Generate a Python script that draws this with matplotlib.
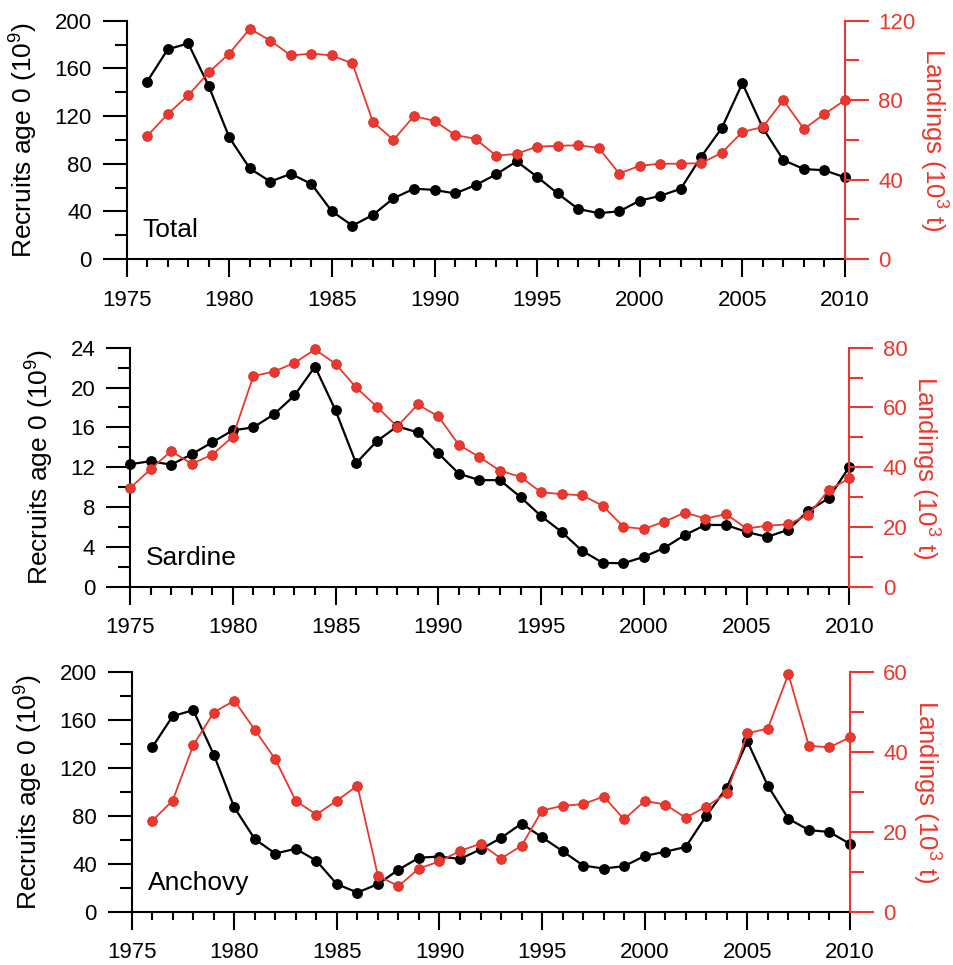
import numpy as np
from matplotlib import pyplot as plt
from matplotlib.ticker import MultipleLocator

plt.rcParams['font.family'] = ['Liberation Sans', 'DejaVu Sans']

RED = '#e8382f'

# --- data ---
years_total = list(range(1976, 2011))
total_recruits = [149, 176, 181, 145, 102, 76, 65, 71.5, 63, 40, 28, 37, 51, 59, 58,
                  55, 62, 71, 82, 69, 55, 42, 38.5, 40, 49, 53, 59, 86, 110, 147.5,
                  110, 83, 75.5, 74.5, 68.5]
total_landings = [62, 73, 82.5, 94, 103.5, 116, 110, 102.5, 103.5, 102.5, 98.5, 69, 60,
                  72, 69.5, 62.5, 60.5, 52, 53, 56.6, 57, 57.3, 56, 43, 47, 48, 48, 48.3,
                  53.5, 64, 66.5, 80, 65.5, 73, 80]

years_sardine = list(range(1975, 2011))
sardine_recruits = [12.3, 12.6, 12.25, 13.3, 14.5, 15.7, 16.0, 17.3, 19.2, 22.1, 17.7,
                    12.4, 14.6, 16.1, 15.5, 13.4, 11.35, 10.7, 10.7, 9.0, 7.1, 5.5, 3.6,
                    2.4, 2.35, 3.0, 3.9, 5.2, 6.2, 6.2, 5.5, 5.0, 5.7, 7.6, 8.9, 12.05]
sardine_landings = [33, 39.3, 45.4, 41.1, 44.2, 50.2, 70.5, 72, 74.9, 79.4, 74.6, 66.7,
                    60.3, 53.6, 61, 57, 47.5, 43.4, 38.8, 36.8, 31.6, 31, 30.6, 27.1,
                    20.1, 19.3, 21.8, 24.8, 22.8, 24.3, 19.5, 20.4, 20.9, 24, 32.4, 36.3]

years_anchovy = list(range(1976, 2011))
anchovy_recruits = [137, 163, 168, 131, 87, 60.5, 48.5, 52.5, 42.5, 23, 16, 23, 35, 45,
                    46, 44, 52, 61.5, 73.5, 62, 50.5, 38.5, 36, 38, 46.5, 50, 54, 80,
                    103.5, 142, 105, 77.5, 68, 66.5, 56.5]
anchovy_landings = [22.7, 27.8, 41.6, 49.8, 52.8, 45.5, 38.1, 27.7, 24.3, 27.8, 31.5, 9,
                    6.4, 10.8, 12.6, 15.2, 17, 13.3, 16.5, 25.3, 26.5, 26.9, 28.8, 23.1,
                    27.7, 26.8, 23.5, 26.3, 29.6, 44.6, 45.8, 59.4, 41.5, 41.1, 43.6]

panels = [
    ('Total', years_total, total_recruits, total_landings, 200, 40, 120, 40),
    ('Sardine', years_sardine, sardine_recruits, sardine_landings, 24, 4, 80, 20),
    ('Anchovy', years_anchovy, anchovy_recruits, anchovy_landings, 200, 40, 60, 20),
]

# axes boxes in figure fraction [left, bottom, width, height]
boxes = [
    [0.1328, 0.7316, 0.7529, 0.2469],
    [0.1363, 0.3920, 0.7540, 0.2477],
    [0.1380, 0.0552, 0.7529, 0.2487],
]

fig = plt.figure(figsize=(9.54, 9.65), dpi=100)

for (name, yrs, rec, land, lmax, lstep, rmax, rstep), box in zip(panels, boxes):
    ax = fig.add_axes(box)
    ax2 = ax.twinx()

    ax.plot(yrs, rec, '-o', color='black', lw=1.6, ms=6.8, zorder=3, clip_on=False)
    ax2.plot(yrs, land, '-o', color=RED, lw=1.3, ms=7, mec='#d92e25', mew=0.6,
             zorder=3, clip_on=False)

    ax.set_xlim(1975, 2010)
    ax.set_ylim(0, lmax)
    ax2.set_ylim(0, rmax)

    ax.xaxis.set_major_locator(MultipleLocator(5))
    ax.xaxis.set_minor_locator(MultipleLocator(1))
    ax.yaxis.set_major_locator(MultipleLocator(lstep))
    ax.yaxis.set_minor_locator(MultipleLocator(lstep / 2))
    ax2.yaxis.set_major_locator(MultipleLocator(rstep))
    ax2.yaxis.set_minor_locator(MultipleLocator(rstep / 2))

    for s in ['top', 'right']:
        ax.spines[s].set_visible(False)
    for s in ['top', 'left', 'bottom']:
        ax2.spines[s].set_visible(False)
    ax.spines['left'].set_linewidth(1.5)
    ax.spines['bottom'].set_linewidth(1.5)
    ax2.spines['right'].set_linewidth(1.5)
    ax2.spines['right'].set_color(RED)

    ax.tick_params(axis='x', which='major', direction='out', length=13, width=1.5,
                   pad=9, labelsize=16)
    ax.tick_params(axis='x', which='minor', direction='out', length=6, width=1.5)
    ax.tick_params(axis='y', which='major', direction='out', length=17, width=1.5,
                   pad=8, labelsize=16)
    ax.tick_params(axis='y', which='minor', direction='out', length=9, width=1.5)
    ax2.tick_params(axis='y', which='major', direction='out', length=17, width=1.5,
                    pad=7, labelsize=16, color=RED, labelcolor=RED)
    ax2.tick_params(axis='y', which='minor', direction='out', length=10, width=1.5,
                    color=RED)

    ax.set_ylabel(r'Recruits age 0 (10$^\mathregular{9}$)', fontsize=19, labelpad=11)
    ax2.set_ylabel(r'Landings (10$^\mathregular{3}$ t)', fontsize=18.5, color=RED,
                   labelpad=2, rotation=270, va='bottom')

    ax.text(0.022, 0.07, name, transform=ax.transAxes, fontsize=19, ha='left',
            va='bottom')

    ax2.set_zorder(ax.get_zorder() + 1)

fig.savefig('out.png', dpi=100)
